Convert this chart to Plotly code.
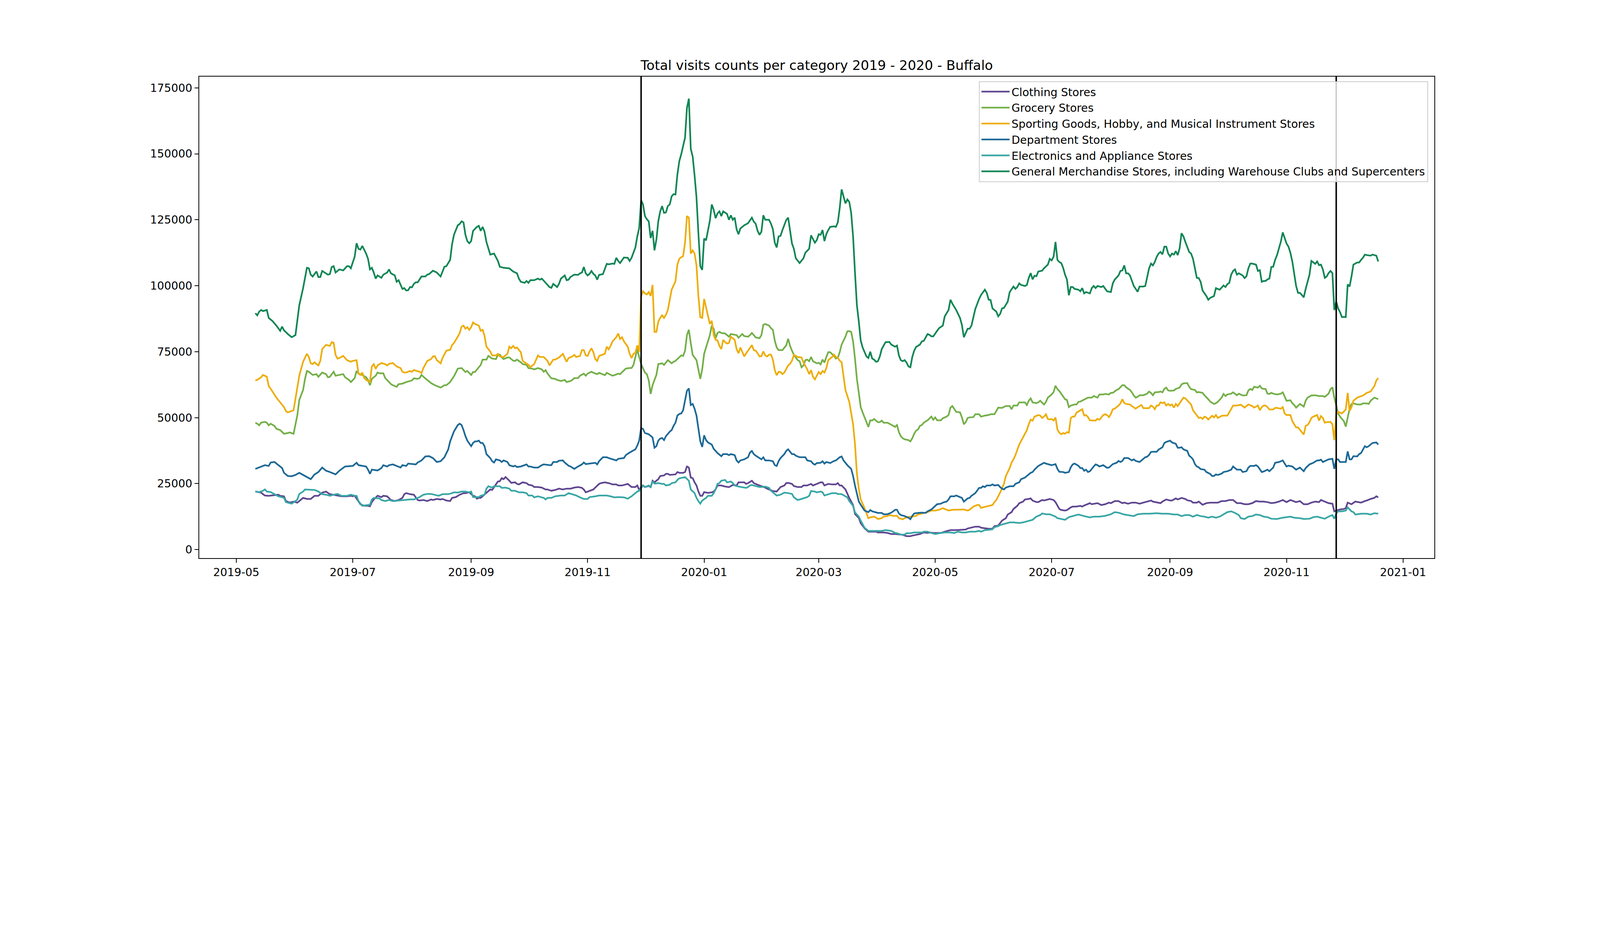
import pandas as pd
import plotly.graph_objects as go

# dates are stored as day offsets from this date
base_date = pd.Timestamp("2019-05-01")

categories = [
    "Clothing Stores",
    "Grocery Stores",
    "Sporting Goods, Hobby, and Musical Instrument Stores",
    "Department Stores",
    "Electronics and Appliance Stores",
    "General Merchandise Stores, including Warehouse Clubs and Supercenters",
]
colors = ["#5F4690", "#73AF48", "#EDAD08", "#1D6996", "#38A6A5", "#0F8554"]

# black vertical markers (Black Friday)
event_dates = ["2019-11-29", "2020-11-27"]

# (day offset, visits)
clothing = [(10,22000),(13,21600),(14,21000),(15,20500),(17,20400),(20,20700),(22,20800),(23,20400),(25,20200),(26,18400),(28,17800),(30,18200),(32,17800),(34,19000),(35,19600),(37,19200),(39,19200),(41,20400),(43,20400),(45,21600),(47,22000),(49,21000),(51,20800),(53,20500),(55,20200),(58,20200),(60,20400),(61,20200),(62,20400),(64,18400),(65,17200),(67,16600),(69,16600),(70,16400),(71,18000),(72,19000),(74,20400),(76,19900),(77,20400),(79,20200),(81,18800),(83,18400),(85,18800),(87,19600),(88,21000),(89,21400),(91,21000),(93,20800),(95,18800),(96,18600),(98,18800),(100,18400),(102,19000),(103,18800),(105,19200),(107,19000),(108,19200),(110,18600),(112,18400),(113,19600),(115,19900),(117,20800),(119,21400),(120,21400),(122,21700),(124,20400),(125,20200),(126,19300),(127,19600),(128,19600),(130,20800),(132,22000),(133,22800),(134,22600),(136,24900),(137,25800),(138,25900),(139,27100),(140,26700),(141,27500),(143,26100),(144,25300),(146,25500),(147,24900),(148,24700),(150,25500),(152,25200),(153,24600),(155,24300),(156,23700),(158,23700),(160,23500),(162,22800),(163,22800),(165,22300),(167,22600),(169,23100),(171,22800),(173,23100),(175,23100),(177,23500),(179,23700),(181,23400),(182,22800),(183,21700),(185,22200),(187,22800),(188,23500),(190,24900),(191,25200),(193,25500),(195,25200),(197,24700),(199,24700),(200,24300),(202,24300),(205,24900),(207,23700),(209,23700),(210,24300),(211,22600),(212,23700),(213,24300),(214,23700),(216,24100),(217,23700),(218,26100),(219,25500),(221,26700),(222,27900),(224,28100),(225,28700),(226,28700),(227,28300),(229,28500),(230,28500),(231,29400),(232,29100),(234,29100),(235,29400),(236,31500),(237,31100),(238,27300),(239,27100),(240,25500),(241,24300),(242,22000),(243,20400),(244,20400),(245,21800),(247,21500),(249,21700),(250,22000),(251,22800),(252,24300),(254,24300),(256,23900),(258,23700),(260,24500),(262,24300),(263,25500),(265,25500),(266,25500),(267,24900),(268,25200),(270,26100),(271,25200),(273,24600),(275,24100),(277,23500),(278,23100),(280,22600),(281,22200),(283,22000),(284,22800),(285,23700),(287,24300),(288,25200),(289,25300),(291,24900),(292,24100),(294,23700),(296,23700),(297,24300),(299,24300),(301,24900),(302,24300),(304,24900),(306,25500),(307,25500),(308,24300),(310,24900),(312,24700),(314,24700),(315,25200),(316,24300),(317,24300),(319,22800),(320,21000),(321,19600),(323,16900),(324,13500),(326,12000),(327,10000),(329,8100),(331,6800),(333,6800),(335,6800),(336,6500),(339,6500),(341,6300),(343,5900),(345,5900),(347,5700),(349,5600),(351,5100),(353,5100),(354,5300),(356,5600),(358,5900),(360,6500),(362,6300),(363,6500),(365,6300),(367,6300),(369,6300),(371,6800),(374,7400),(377,7400),(380,7600),(382,7600),(383,8000),(385,8300),(387,8700),(389,8700),(390,8300),(392,8100),(394,7900),(396,7900),(397,8900),(399,9100),(400,10100),(401,11000),(403,11900),(404,13300),(406,14200),(407,15400),(409,16600),(410,17600),(412,18200),(413,19000),(415,19200),(416,19400),(417,18600),(419,18000),(420,18000),(422,18800),(423,18600),(425,19000),(426,19200),(428,18800),(429,18000),(430,16700),(431,15400),(432,15000),(434,14800),(435,15000),(437,16000),(438,16300),(440,16300),(442,16600),(443,16300),(444,16700),(447,17600),(448,17200),(451,17600),(453,16900),(455,17200),(457,17800),(458,17600),(460,18400),(462,18400),(464,17600),(465,17800),(467,17400),(469,17800),(471,17800),(473,17400),(475,17800),(477,18200),(479,18600),(480,18200),(483,17800),(484,17600),(485,18200),(487,19000),(489,18600),(490,18600),(492,19400),(493,19000),(495,19600),(497,19200),(498,18700),(500,18400),(501,17800),(503,17800),(504,18200),(506,17000),(508,17600),(510,17800),(512,17800),(514,17800),(516,18400),(518,18400),(520,18800),(522,18800),(524,17600),(526,17600),(528,17200),(530,17200),(532,17600),(534,18400),(536,18200),(538,18200),(540,18000),(542,17600),(544,17800),(546,18200),(548,18800),(550,18000),(552,18800),(555,18000),(557,18400),(559,17200),(561,17200),(563,17800),(565,18200),(567,18000),(568,18800),(570,18200),(572,17600),(574,17400),(575,14500),(576,14800),(578,15200),(580,15400),(581,15700),(582,17800),(584,17200),(586,18200),(589,17800),(591,18400),(592,18600),(594,19200),(596,19600),(597,20200),(598,19800)]

grocery = [(10,48100),(11,47700),(12,47100),(13,48100),(15,48400),(16,48100),(17,47100),(18,47700),(20,46900),(21,45800),(23,45300),(25,43900),(27,44200),(28,44400),(30,43900),(31,47200),(32,51000),(33,56700),(35,60500),(36,64700),(37,67700),(38,67400),(40,66200),(42,66500),(43,65500),(45,67100),(47,66500),(48,65300),(49,65500),(51,67400),(52,65900),(54,66200),(56,66500),(57,65300),(59,64300),(60,63500),(62,65000),(63,67700),(64,66700),(66,66200),(68,65300),(69,64300),(70,62300),(71,64700),(73,65900),(74,67100),(75,66800),(77,66800),(78,65000),(80,63500),(81,62700),(82,62300),(84,61700),(85,62700),(87,62900),(89,63500),(90,63700),(92,64100),(93,64900),(95,64700),(96,65000),(97,66200),(98,65500),(100,64300),(102,63100),(104,62300),(107,61400),(109,62300),(110,62300),(112,63500),(114,65700),(115,67100),(116,68600),(118,68800),(119,68000),(120,67300),(121,67700),(123,66200),(124,67300),(125,67300),(127,69100),(128,70000),(129,72000),(131,72000),(132,73400),(134,72400),(136,72200),(137,73800),(138,73900),(139,72900),(140,72200),(142,72800),(143,72800),(145,71600),(146,71500),(147,72000),(149,71000),(150,70300),(152,70000),(153,68800),(155,68600),(156,68300),(158,68800),(160,68300),(161,67400),(162,68000),(163,66700),(165,64900),(167,64700),(168,64300),(170,63900),(172,64300),(173,63500),(175,63900),(176,64300),(177,65000),(179,65000),(180,65900),(182,66700),(183,65900),(184,66700),(186,67400),(187,67000),(189,66500),(190,67000),(192,66500),(193,66100),(194,67000),(197,65900),(198,66100),(200,66700),(201,66500),(203,68000),(204,68600),(206,68800),(207,68800),(208,70000),(209,73000),(210,76000),(211,73000),(212,70300),(214,67100),(215,66500),(216,64100),(217,59000),(218,62300),(220,66200),(221,70300),(223,70600),(224,70000),(225,71000),(226,71800),(228,70600),(229,71200),(230,71500),(232,73000),(233,73600),(234,73400),(235,75400),(236,81300),(237,83300),(238,78300),(239,73800),(241,71800),(242,68300),(243,64700),(244,68300),(245,74200),(246,76600),(247,78900),(248,81300),(249,84900),(250,83700),(251,80100),(252,82100),(253,82500),(254,82100),(256,81900),(258,80700),(259,81700),(262,81300),(263,80300),(264,80900),(265,81700),(266,80900),(268,80700),(269,81300),(270,82100),(271,81300),(272,80400),(274,80100),(275,81300),(276,85200),(277,85500),(279,84900),(280,83900),(281,83300),(282,79200),(283,76600),(284,75600),(286,75600),(287,76600),(288,77400),(289,79900),(290,77200),(291,75400),(292,73800),(294,71800),(295,71400),(296,69100),(297,69800),(298,71800),(299,72000),(300,71400),(301,73000),(302,71400),(303,71000),(304,70600),(305,70800),(306,70200),(307,72000),(308,70900),(309,73000),(310,74800),(311,74800),(313,73400),(314,72400),(315,72700),(316,74800),(317,77700),(318,79200),(319,80700),(320,82700),(321,82800),(322,82500),(323,78900),(324,72400),(325,64700),(326,59400),(327,54000),(328,52000),(329,50100),(330,48300),(331,46500),(332,49000),(333,48900),(334,49500),(335,48900),(336,48300),(337,48300),(338,48900),(339,48100),(341,48100),(342,47700),(344,46900),(345,46500),(346,47200),(347,44500),(348,43000),(349,42200),(350,41800),(352,41500),(353,41000),(354,42200),(355,43900),(356,45100),(357,45500),(358,46900),(359,47200),(360,48100),(362,49000),(363,49600),(364,50400),(365,49200),(366,50100),(367,49000),(369,49000),(370,49800),(372,50400),(373,51000),(374,53800),(375,54400),(376,53200),(377,52200),(379,52000),(380,50100),(381,47500),(382,48300),(383,49900),(384,50100),(386,50200),(387,51300),(389,51300),(390,50400),(392,50800),(394,51000),(395,51300),(397,51300),(398,52500),(399,53800),(401,53700),(403,54400),(405,54400),(406,53200),(407,54600),(409,54600),(410,55800),(412,55800),(413,55800),(414,54800),(415,56400),(416,57300),(417,55800),(419,55500),(420,55800),(421,56400),(422,55800),(423,55000),(424,56000),(425,57600),(427,58800),(428,59700),(429,62100),(430,60800),(431,60100),(432,59100),(433,58200),(434,57000),(435,56700),(436,54000),(437,54600),(439,55000),(440,55000),(441,56000),(442,56100),(444,56900),(446,57600),(448,57600),(449,58200),(451,57600),(452,58800),(454,58800),(455,59000),(457,58800),(458,59400),(459,59400),(461,60500),(462,60800),(464,62300),(465,62300),(466,61500),(468,60500),(469,59600),(470,58400),(471,57600),(472,57900),(473,58500),(475,58500),(476,58800),(477,59100),(478,59900),(479,59400),(480,58500),(481,59600),(483,59700),(484,59900),(485,59600),(486,60900),(487,61400),(488,60300),(489,60200),(491,60300),(492,60900),(494,61400),(495,62600),(496,63000),(498,63100),(499,61700),(500,60800),(502,60500),(503,59600),(504,59700),(506,59400),(507,58500),(509,57000),(510,56100),(512,55200),(513,55500),(514,56000),(516,57600),(517,59000),(518,58200),(519,58800),(521,59100),(522,59600),(523,59100),(524,58500),(525,59100),(527,58400),(529,58500),(530,60300),(531,60900),(532,60500),(533,61700),(534,61500),(535,61400),(536,62100),(537,61100),(538,60900),(539,60900),(540,59100),(541,59000),(542,59400),(543,59100),(545,58800),(547,59100),(548,59600),(550,56400),(552,56600),(553,55500),(554,54800),(555,53800),(557,55200),(558,54600),(559,54200),(560,56400),(561,57600),(563,58400),(565,58500),(567,58200),(569,58200),(570,57900),(572,59100),(573,60800),(574,61500),(575,57600),(576,54600),(577,51600),(578,50400),(580,48700),(581,46600),(582,49900),(583,53400),(584,55200),(585,55400),(587,55000),(589,55000),(590,55400),(592,55400),(593,55200),(594,56400),(596,57600),(598,57000)]

sporting = [(10,64100),(11,64300),(13,65300),(14,66200),(16,65500),(17,62000),(19,59900),(21,57600),(23,55800),(25,54000),(26,52500),(27,52000),(30,52800),(31,57000),(33,65900),(35,71200),(37,74200),(38,73000),(39,70600),(40,70300),(41,71000),(42,70300),(43,69800),(44,71500),(45,76000),(47,77600),(49,77200),(50,78600),(51,78400),(52,73800),(53,72400),(54,72600),(56,73400),(58,71800),(60,71200),(61,71500),(63,71800),(64,66700),(65,66200),(66,67100),(67,65000),(68,64300),(70,63500),(71,69400),(72,70300),(73,68500),(74,69800),(76,70700),(78,70300),(79,69800),(80,70400),(82,70700),(83,70000),(84,69400),(86,68800),(87,67400),(88,67100),(89,67100),(91,67700),(92,67400),(93,68100),(94,67800),(96,67400),(97,66900),(98,68800),(100,71500),(102,72200),(103,73200),(104,73300),(105,71800),(107,70600),(108,72600),(110,75400),(112,75700),(113,77500),(114,78300),(116,80700),(117,82100),(118,84500),(119,84900),(120,83700),(121,84300),(122,83300),(123,84300),(124,86100),(125,85500),(127,84900),(128,82900),(129,83300),(130,81000),(131,76900),(133,75100),(134,73600),(136,73600),(137,74200),(138,73200),(140,73000),(142,74200),(143,76900),(144,76300),(145,77200),(146,76300),(147,76600),(149,74800),(150,71500),(152,70600),(153,70000),(154,69200),(156,70300),(158,73600),(159,73000),(161,73000),(163,71500),(164,69800),(166,72000),(167,72000),(169,72800),(171,74200),(173,71200),(174,72600),(176,73200),(177,73800),(178,73000),(180,73400),(181,75600),(182,75600),(183,73600),(184,73400),(185,75100),(186,76300),(187,74800),(188,72200),(189,71500),(190,73400),(192,74000),(193,74200),(194,76900),(195,75900),(196,77200),(197,78900),(199,80500),(200,81900),(201,79800),(202,80500),(203,78900),(205,76900),(206,74200),(207,72600),(208,74200),(209,74600),(210,77400),(211,75000),(212,96100),(213,97900),(214,97100),(215,96700),(216,97600),(217,96100),(218,100300),(219,82500),(220,82500),(221,86400),(222,87800),(223,88800),(224,87800),(225,89000),(226,90800),(227,94400),(228,98500),(229,100100),(230,101700),(231,108000),(232,110200),(233,110800),(234,111200),(235,116300),(236,126400),(237,125800),(238,112200),(239,113400),(240,112200),(241,107700),(242,96100),(243,88100),(244,87800),(245,95000),(246,92000),(247,88800),(248,85500),(249,86700),(250,81300),(251,79500),(252,79300),(253,77200),(254,76000),(255,79500),(256,78600),(257,78100),(258,78300),(259,80700),(260,80100),(261,79500),(262,76000),(263,74400),(264,76600),(265,74800),(266,73200),(267,74400),(269,76600),(270,77500),(271,75600),(272,75400),(273,74400),(274,73200),(275,73300),(276,75100),(277,73600),(278,73200),(279,73900),(280,73900),(281,72000),(282,68000),(283,66100),(284,67400),(285,67300),(286,66500),(287,67100),(288,68300),(289,69800),(290,70400),(291,71600),(292,73800),(293,73400),(294,73000),(296,72800),(297,71000),(299,68300),(300,66500),(301,68000),(302,65500),(303,64500),(304,65900),(305,67300),(306,66500),(307,67700),(308,67100),(309,68800),(310,71800),(312,73000),(313,73900),(314,73000),(315,72700),(316,71600),(317,71000),(318,65300),(319,60500),(321,56000),(323,47500),(324,40000),(325,28800),(326,23100),(327,19000),(329,15700),(330,13700),(331,11900),(332,12200),(334,12500),(335,12100),(336,11600),(338,11900),(339,12500),(341,12700),(342,13100),(344,12800),(346,12800),(347,11900),(349,11500),(350,11900),(352,12400),(354,12500),(356,12800),(357,13300),(360,13900),(362,14200),(364,14800),(366,14800),(368,15100),(370,15700),(372,15100),(373,14800),(375,15100),(378,15200),(380,15200),(381,15200),(383,14800),(384,15100),(386,16300),(388,16900),(389,16900),(390,15800),(391,16000),(393,16300),(394,16600),(396,16900),(397,18000),(398,18800),(399,20200),(400,21600),(402,24900),(403,27900),(405,30900),(406,33000),(407,34200),(408,35800),(410,39800),(412,42400),(414,45300),(415,47500),(416,49300),(417,48900),(418,50400),(420,51000),(421,50800),(422,49900),(423,50400),(424,51300),(425,49500),(426,49300),(427,49500),(428,48900),(429,50100),(430,45500),(431,44300),(432,43700),(433,44200),(434,43900),(435,44500),(436,44300),(437,49900),(438,50400),(439,50400),(440,51900),(442,52800),(443,53200),(444,50800),(445,51000),(446,50200),(447,49000),(450,48900),(451,49600),(452,49200),(454,51000),(455,51300),(456,51000),(457,50200),(458,51400),(459,53200),(460,53400),(462,54600),(463,55400),(464,57000),(465,55600),(466,55200),(468,55000),(469,54400),(471,53400),(472,54000),(474,54800),(475,53600),(476,53600),(478,53600),(479,54600),(480,54200),(481,53200),(482,54600),(483,54600),(484,55800),(485,55500),(486,55800),(487,54600),(488,55200),(489,54600),(490,55000),(491,53800),(492,55200),(493,54400),(495,56400),(496,57600),(497,57300),(498,56600),(499,55800),(500,55000),(501,52800),(503,51000),(504,49900),(505,50100),(506,49500),(507,50400),(508,50100),(509,49300),(510,49900),(511,50700),(512,50100),(513,51000),(514,49900),(516,50700),(517,50800),(519,50800),(520,52000),(521,53400),(522,54600),(524,54600),(526,54900),(527,54400),(528,53800),(530,55000),(532,54400),(533,53800),(535,54600),(536,52800),(537,54000),(538,54600),(539,54600),(540,54000),(541,53100),(543,53100),(544,53700),(545,53700),(547,53400),(548,54000),(549,51600),(550,51000),(552,51000),(553,48700),(555,46300),(556,46300),(558,44500),(559,43600),(560,46900),(561,47200),(562,48300),(563,49900),(564,50400),(566,51000),(567,48900),(568,50600),(569,49900),(570,48100),(571,48300),(573,48400),(574,47500),(575,41500),(576,51300),(577,52200),(579,51600),(581,53100),(582,59400),(583,52500),(584,54000),(585,56400),(587,57600),(589,58200),(590,58400),(592,59400),(594,59900),(596,62000),(597,64100),(598,65000)]

department = [(10,30600),(12,31100),(13,31500),(15,32000),(17,31700),(18,33000),(20,33200),(22,32000),(24,30900),(25,29100),(27,27900),(29,27800),(31,28300),(33,29100),(35,28300),(38,27100),(39,26700),(41,28500),(43,29400),(45,31100),(47,29900),(49,29400),(52,28500),(54,29900),(57,31500),(61,31700),(63,32900),(64,32000),(66,31700),(68,31500),(69,30300),(70,28700),(71,30300),(74,30000),(76,30900),(77,32000),(79,31500),(80,32000),(82,32300),(84,31700),(86,31100),(87,32000),(89,31700),(90,32600),(94,32300),(95,33000),(97,33800),(99,35300),(101,35400),(103,34700),(105,33200),(107,33500),(109,35000),(111,38000),(112,41000),(114,44800),(115,46100),(116,47200),(117,47700),(118,47200),(119,45300),(120,43000),(121,41300),(122,40100),(123,39200),(124,40400),(125,41000),(126,41000),(127,41300),(128,40400),(129,40400),(130,39200),(131,36200),(133,34700),(134,33500),(135,33000),(136,34200),(138,33800),(139,33200),(140,33800),(142,33200),(143,32000),(145,31500),(146,31800),(147,31300),(149,31500),(151,32000),(152,32300),(153,31500),(154,31500),(156,31100),(158,31100),(160,32000),(161,32300),(164,32000),(165,32000),(166,33200),(168,33200),(169,33700),(171,33800),(172,33000),(174,31800),(175,31500),(177,30600),(179,31500),(181,32300),(182,33000),(183,32400),(185,32600),(188,32900),(189,32300),(190,33500),(192,35000),(194,35000),(195,34700),(197,34200),(199,33800),(200,34400),(202,34700),(203,34700),(204,35800),(206,36800),(209,38000),(210,39400),(211,41300),(212,46100),(213,45700),(214,44200),(216,43700),(218,42500),(219,38600),(220,39200),(221,41300),(222,42100),(223,42300),(224,41500),(225,43000),(226,43900),(227,44700),(228,45300),(229,46900),(230,48100),(231,50800),(232,51400),(233,51600),(234,52800),(235,56400),(236,60200),(237,61100),(238,54800),(239,55200),(240,53400),(241,50800),(242,45700),(243,41000),(244,38900),(245,43300),(246,41500),(247,40600),(249,39800),(250,38200),(251,37400),(252,36600),(254,35400),(255,36200),(257,36200),(258,35800),(259,36200),(261,35800),(262,33800),(263,33000),(264,33800),(266,34200),(268,35000),(269,36800),(270,37400),(271,36200),(272,35600),(274,34700),(275,34200),(276,35000),(277,33800),(279,33800),(281,33500),(282,32000),(283,31700),(284,33500),(285,34700),(287,36200),(288,37400),(289,38000),(290,37000),(291,36200),(292,36200),(293,35600),(295,35000),(298,35000),(299,33800),(301,33500),(302,32600),(303,32200),(304,32800),(306,32900),(307,33500),(308,32600),(309,33200),(311,32800),(313,33600),(314,33800),(316,35000),(317,35300),(318,33800),(320,32000),(322,30600),(323,27900),(324,24300),(325,21100),(326,18200),(327,17000),(328,16000),(329,14800),(331,14200),(332,15000),(333,14500),(335,14200),(336,13900),(338,13900),(339,13400),(341,13400),(343,14000),(344,14500),(345,15100),(346,15100),(347,13700),(348,13100),(350,12700),(352,12100),(353,11500),(354,12800),(355,13700),(357,13900),(359,14000),(361,13900),(362,14500),(364,15200),(366,16400),(367,17200),(369,17400),(370,17800),(372,18200),(373,19000),(374,20200),(376,20200),(377,20500),(379,19900),(380,19600),(381,18200),(382,18800),(383,19400),(384,19600),(385,20400),(387,21400),(388,22300),(389,23400),(390,23400),(391,24000),(392,23700),(393,24300),(395,24300),(396,24700),(397,24300),(399,24500),(400,23700),(401,23100),(402,22800),(403,23500),(405,24000),(407,24000),(408,24900),(410,25500),(411,26700),(413,27300),(414,27900),(416,29100),(417,29400),(418,30300),(420,31700),(422,32400),(423,32900),(424,32600),(426,32200),(427,32000),(429,32400),(430,30600),(431,29500),(433,29400),(434,29100),(436,29400),(437,31200),(438,32300),(439,32600),(441,31800),(442,30900),(443,30900),(444,29900),(445,30300),(446,29400),(447,29700),(449,31500),(450,32300),(451,32000),(452,31500),(454,32000),(456,31000),(457,31100),(459,32400),(461,32900),(462,33600),(463,33200),(464,33600),(465,34700),(467,34700),(469,33800),(470,34200),(471,33600),(473,33200),(474,33800),(476,35000),(477,35200),(478,35900),(479,37000),(480,37100),(482,37100),(483,37900),(485,38800),(486,40400),(487,40800),(489,41300),(490,40600),(492,40100),(493,38600),(494,38600),(495,38800),(496,38000),(498,37400),(499,35600),(500,35000),(501,34200),(502,32400),(503,31500),(504,31200),(505,30500),(507,30300),(508,29400),(510,28700),(511,27900),(512,27900),(513,28500),(514,28300),(516,28800),(517,29400),(519,29700),(521,30300),(522,31500),(523,30900),(524,30300),(526,30300),(527,29400),(529,29700),(530,31100),(531,31700),(533,31700),(534,32000),(535,31500),(537,29400),(538,29600),(540,30300),(541,29700),(543,31100),(544,32900),(546,33200),(548,33800),(550,31500),(551,31800),(553,31500),(555,30300),(557,31100),(559,29700),(560,30900),(562,32300),(564,32900),(566,33800),(567,33800),(568,34100),(569,33200),(570,33500),(572,34200),(574,34400),(575,30600),(576,34200),(577,34200),(578,33200),(580,33200),(581,33200),(582,37200),(583,34200),(584,34200),(585,35400),(587,35300),(588,36200),(589,36600),(591,39200),(592,38800),(593,39200),(595,40400),(597,40600),(598,39800)]

electronics = [(10,22000),(12,21800),(14,22300),(15,22800),(16,22000),(18,21800),(20,21000),(22,20200),(24,19800),(25,19600),(26,18000),(28,17600),(29,17400),(31,18400),(32,19000),(33,21100),(35,22000),(36,22800),(39,22600),(41,22600),(43,22000),(45,21000),(47,20800),(49,20400),(51,20800),(53,21100),(55,20400),(58,20400),(60,20800),(62,20400),(63,20400),(64,18400),(66,16600),(68,16800),(70,17000),(71,19000),(72,19600),(75,19400),(76,18800),(78,18400),(80,18800),(82,18400),(85,18600),(87,18800),(89,19000),(91,19000),(93,19000),(95,19600),(96,19900),(98,20800),(100,21100),(102,21100),(104,20800),(106,20400),(108,21000),(111,21000),(113,21400),(114,21700),(116,21600),(118,22000),(120,22000),(122,21700),(123,22000),(124,19900),(126,19900),(127,19900),(128,20400),(130,20800),(131,23100),(132,24000),(134,23500),(135,24000),(138,24000),(139,23400),(141,23500),(143,23100),(144,22300),(146,22300),(148,21700),(150,21700),(152,21400),(153,20500),(155,20500),(156,19800),(158,20200),(161,19600),(162,19000),(163,19600),(165,19600),(167,20200),(170,20500),(172,20500),(174,21400),(176,21000),(178,20500),(180,19800),(182,19200),(184,19200),(185,19900),(188,20200),(190,20500),(192,20500),(194,20500),(196,20200),(198,19800),(200,19900),(203,19800),(205,19300),(207,20200),(209,21400),(210,22000),(211,22300),(212,23400),(213,24300),(214,23700),(216,24300),(217,23700),(218,25900),(219,25000),(221,25200),(223,24900),(224,24900),(225,24300),(227,24600),(228,25200),(230,25500),(231,26400),(232,27000),(234,27300),(235,27500),(237,26100),(238,22800),(240,21400),(241,19600),(242,18400),(243,17400),(244,18600),(246,19600),(247,20400),(249,20400),(250,21400),(251,22800),(252,24900),(253,25200),(254,26100),(256,26400),(257,25500),(259,25800),(260,25200),(261,24300),(263,23900),(265,23700),(267,23400),(268,23700),(269,24300),(270,24500),(272,24100),(274,23700),(275,23700),(277,23900),(279,23400),(280,22300),(282,21100),(283,20500),(285,20800),(287,21600),(289,21400),(291,21100),(292,19800),(294,18800),(296,19200),(298,19600),(299,19900),(300,20400),(301,22200),(303,22000),(304,21700),(306,22000),(307,21700),(308,20500),(310,21000),(312,21400),(314,21400),(315,21100),(317,21000),(320,19800),(321,18400),(323,16600),(324,14100),(326,12500),(327,11000),(329,8300),(331,7100),(333,7100),(336,7100),(338,7100),(340,7400),(343,7100),(345,6300),(346,6200),(348,5700),(350,5700),(351,6200),(353,6200),(355,6500),(357,6500),(359,6500),(360,6800),(362,6800),(364,6300),(366,5900),(369,6300),(371,6500),(374,6500),(376,6300),(378,6800),(380,6500),(382,6500),(384,6800),(387,6800),(389,7100),(390,6800),(392,7400),(394,7500),(396,7700),(397,8500),(399,8900),(400,9300),(402,9700),(404,10100),(405,10300),(407,10300),(409,10100),(410,10100),(412,10300),(414,10700),(416,11000),(417,11300),(419,12500),(421,13100),(422,13700),(424,13400),(426,13400),(427,13100),(429,12500),(430,11900),(432,11600),(434,11300),(436,12300),(438,12700),(441,13300),(444,12700),(447,12200),(449,12500),(452,12500),(455,12800),(458,13400),(460,14200),(462,14000),(465,13300),(467,13100),(470,12700),(472,13400),(475,13600),(478,13600),(482,13800),(485,13600),(488,13600),(491,13300),(493,13300),(495,12700),(497,13100),(499,13100),(501,12500),(503,13100),(505,12700),(507,12500),(509,12100),(511,12500),(513,12100),(515,12500),(517,13300),(519,14200),(521,14500),(523,13900),(525,13100),(526,11900),(528,11600),(530,12500),(532,12700),(534,13300),(536,13100),(538,12500),(540,12300),(542,11700),(545,11600),(548,12100),(552,12500),(554,12100),(557,11900),(559,11600),(562,11700),(564,12300),(566,12500),(569,11900),(570,11700),(572,12500),(574,13100),(575,11700),(576,13700),(577,14500),(579,14500),(581,14800),(582,16000),(584,14500),(585,14200),(586,13300),(589,13600),(592,13600),(594,13300),(596,13800),(598,13600)]

general_merch = [(10,89600),(11,88800),(12,90200),(13,90800),(14,90400),(16,90800),(17,87800),(19,86600),(21,84900),(23,82900),(24,84500),(25,83100),(27,81700),(29,80500),(31,81300),(32,87300),(33,92600),(35,99100),(37,106800),(38,106600),(39,104200),(40,103500),(42,105400),(43,103300),(44,103300),(45,105600),(48,104200),(49,104400),(50,107100),(51,107400),(52,105000),(54,106200),(56,105800),(57,106600),(58,107400),(59,107400),(60,106600),(62,111000),(63,116100),(64,114000),(65,113700),(66,115100),(67,113800),(68,112200),(69,110200),(70,106200),(71,106800),(72,105000),(73,102700),(74,103900),(76,103000),(77,104200),(79,105000),(80,106200),(81,104700),(83,103900),(84,101500),(85,102100),(87,98800),(88,99100),(89,98200),(90,98300),(91,99500),(92,99400),(93,100700),(94,101300),(95,101300),(97,103500),(99,103500),(100,104200),(101,104400),(103,105700),(105,105000),(107,103500),(109,107200),(110,107400),(112,109800),(113,115700),(114,119300),(116,122900),(117,123400),(118,124400),(119,124000),(120,119300),(121,116900),(122,116100),(123,116900),(124,120800),(126,122300),(127,122700),(128,120800),(129,122300),(130,120500),(131,116600),(133,111800),(135,112200),(137,109400),(138,107200),(140,106800),(143,106600),(145,105400),(147,104700),(148,102700),(149,101500),(151,101100),(152,101800),(153,101100),(154,102100),(156,102100),(158,102700),(159,102300),(160,102700),(162,101100),(164,99500),(165,99200),(166,100700),(168,99500),(169,100700),(170,102700),(172,103900),(173,102100),(174,102300),(175,103300),(177,104200),(179,104100),(180,104700),(181,105000),(182,107100),(183,104700),(184,103900),(185,104500),(186,105600),(187,104500),(188,103900),(189,102300),(190,104100),(192,104400),(194,108300),(195,108100),(197,108400),(198,108300),(199,110600),(200,109400),(201,108600),(203,110700),(204,110600),(205,110600),(206,109400),(207,110600),(209,114500),(210,118700),(211,121900),(212,132400),(213,130800),(214,126400),(215,125200),(216,124400),(217,118100),(218,120800),(219,113400),(220,117500),(221,124400),(222,128200),(223,130200),(224,127600),(225,127800),(226,130200),(227,130800),(228,133900),(229,134700),(230,134600),(231,142200),(232,147200),(233,149800),(234,152900),(235,156100),(236,167400),(237,170900),(238,151900),(239,149000),(240,141800),(241,133500),(242,119900),(243,107400),(244,106000),(245,117900),(246,117200),(247,121300),(248,124600),(249,130800),(250,128800),(251,125600),(252,127400),(253,128200),(254,126400),(255,128200),(257,127200),(258,125000),(259,126700),(260,125000),(261,125800),(262,121400),(263,119500),(264,121700),(266,122900),(268,123700),(270,125800),(271,124300),(272,123500),(273,120800),(274,119300),(275,120500),(276,126700),(277,125000),(279,125000),(280,123500),(281,121400),(282,116300),(283,114500),(284,118700),(285,118900),(286,121100),(288,124900),(289,125800),(290,120500),(291,116000),(292,114000),(293,110400),(295,108600),(297,110400),(298,112500),(300,114000),(301,119100),(302,117800),(303,116300),(304,117300),(305,119500),(306,119300),(307,121100),(308,116900),(309,119600),(310,121100),(311,122300),(313,122500),(314,122300),(315,124000),(316,129400),(317,136500),(318,134100),(319,131200),(320,132700),(321,131800),(322,127600),(323,118700),(324,105000),(325,92600),(326,86400),(327,79200),(328,76600),(329,75000),(330,73200),(331,72600),(332,75000),(333,72400),(334,72000),(335,71200),(336,71400),(337,73200),(338,76000),(340,78600),(342,78700),(343,77700),(345,76900),(346,77300),(347,73600),(348,71800),(349,71400),(350,71800),(351,70900),(352,69400),(353,69100),(354,73000),(355,75400),(356,76800),(358,77700),(359,78900),(360,79100),(362,81700),(363,81400),(364,80800),(365,80800),(367,82900),(368,83900),(370,84900),(371,88400),(373,90800),(374,94700),(375,93200),(377,90800),(379,87800),(380,85100),(381,80500),(382,82300),(383,83700),(384,83700),(385,84900),(386,88100),(387,91200),(389,95000),(390,96500),(392,98500),(393,97300),(394,94700),(395,94600),(396,91400),(398,90200),(399,88400),(400,89300),(401,91400),(402,91600),(404,94000),(405,97600),(407,99700),(408,98800),(409,99500),(410,100900),(411,100300),(413,99900),(414,100300),(415,103000),(416,104800),(417,102400),(418,103800),(419,103600),(420,105400),(422,105700),(423,106600),(425,108000),(426,110200),(427,109600),(428,111000),(429,116600),(430,109800),(431,109000),(432,108600),(433,106800),(434,104200),(435,102300),(436,96400),(437,99500),(438,99500),(439,98800),(441,98500),(442,97900),(443,99100),(444,97100),(445,97600),(447,97100),(448,99100),(449,99900),(450,99100),(451,99900),(453,99500),(454,99900),(456,97900),(458,97600),(459,100900),(460,102300),(462,103900),(463,105600),(464,105800),(465,107700),(466,104700),(467,104700),(468,103900),(469,101800),(470,99900),(471,98800),(472,97700),(473,99700),(475,99700),(476,99900),(477,103000),(478,106600),(479,108400),(480,107700),(481,109000),(482,111000),(483,112200),(484,112800),(485,111900),(486,114800),(487,114800),(488,112200),(489,111100),(490,112200),(491,111800),(492,113100),(493,111600),(494,114200),(495,119900),(496,118700),(497,116600),(498,114500),(499,112800),(500,112200),(501,110200),(502,106600),(503,103000),(504,102900),(505,101500),(506,98200),(507,97100),(508,96100),(509,94700),(510,95400),(512,96100),(513,99100),(514,98800),(515,98500),(517,100100),(518,99500),(519,100600),(520,101100),(521,104200),(522,105600),(523,106200),(524,104200),(525,104700),(527,103900),(528,102900),(529,103600),(530,106600),(531,108400),(532,108400),(534,108000),(535,105600),(536,105900),(537,101500),(538,101800),(539,101800),(540,102400),(541,102700),(542,107100),(543,107200),(544,109800),(545,111600),(546,114000),(547,116700),(548,120200),(549,118100),(550,116000),(551,114800),(552,112500),(553,109200),(554,104700),(555,99900),(556,97300),(557,97300),(558,96500),(559,95600),(560,98800),(561,101500),(562,104200),(563,109400),(564,108900),(565,108300),(566,109200),(567,107800),(568,108000),(569,106200),(570,103000),(571,103500),(572,104800),(573,105600),(574,104800),(575,90800),(576,94000),(577,91400),(578,90000),(579,88100),(580,88200),(581,88100),(582,100500),(583,99700),(584,103500),(585,108000),(587,108800),(588,108800),(589,109800),(590,110600),(591,111800),(592,111600),(594,111400),(595,111800),(596,111600),(597,111400),(598,109200)]

series = [clothing, grocery, sporting, department, electronics, general_merch]

FONT = "DejaVu Sans"

fig = go.Figure()
all_dates = []
for name, color, pts in zip(categories, colors, series):
    days, visits = zip(*pts)
    dates = base_date + pd.to_timedelta(list(days), unit="D")
    all_dates.extend(dates)
    fig.add_trace(go.Scatter(
        x=dates, y=list(visits), mode="lines", name=name, legendgroup=name,
        line=dict(color=color, width=4.25),
    ))

# matplotlib-like 5% margin on the x data range
first, last = min(all_dates), max(all_dates)
pad = (last - first) * 0.05

for d in event_dates:
    fig.add_shape(type="line", xref="x", yref="paper", x0=d, x1=d, y0=0, y1=1,
                  line=dict(color="black", width=3.8), layer="above")

axis_style = dict(
    showline=True, mirror=True, linecolor="black", linewidth=2.3,
    ticks="outside", ticklen=10, tickwidth=2.3, tickcolor="black",
    showgrid=False, zeroline=False,
    tickfont=dict(family=FONT, size=28.3, color="black"),
)

# the page is shown at about 1.47x, so this size fills the 6000x2400 shot
fig.update_layout(
    width=4064, height=1616,
    margin=dict(l=502, r=400, t=188, b=196),
    paper_bgcolor="white", plot_bgcolor="white",
    title=dict(text="Total visits counts per category 2019 - 2020 - Buffalo",
               font=dict(family=FONT, size=34, color="black"),
               x=0.5, xref="paper", xanchor="center",
               y=0.9016, yref="container", yanchor="middle"),
    legend=dict(x=0.9948, xanchor="right", y=0.9906, yanchor="top",
                bgcolor="rgba(255,255,255,0.8)", bordercolor="#cccccc", borderwidth=2,
                font=dict(family=FONT, size=28.3, color="black"),
                itemwidth=72, tracegroupgap=1),
    showlegend=True,
)
fig.update_xaxes(range=[first - pad, last + pad], type="date",
                 tick0="2019-05-01", dtick="M2", tickformat="%Y-%m", **axis_style)
fig.update_yaxes(range=[-3222, 179255], tickmode="linear", tick0=0, dtick=25000,
                 tickformat="d", **axis_style)

fig.write_html("out.html")
